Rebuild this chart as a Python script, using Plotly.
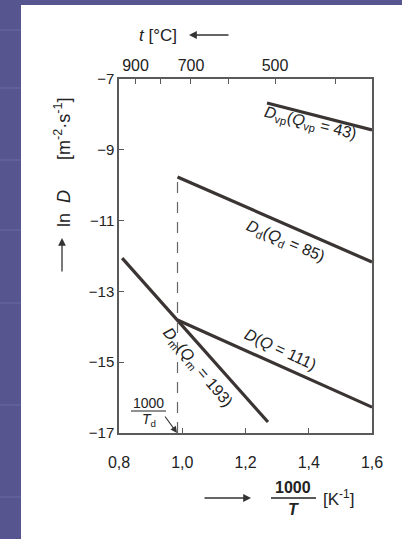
import plotly.graph_objects as go

# ---- data ----
x_tickvals = [0.8, 1.0, 1.2, 1.4, 1.6]
x_ticktext = ["0,8", "1,0", "1,2", "1,4", "1,6"]
y_tickvals = [-7, -9, -11, -13, -15, -17]
y_ticktext = ["\u22127", "\u22129", "\u221211", "\u221213", "\u221215", "\u221217"]
t_celsius = [900, 800, 700, 600, 500, 400]
t_ticktext = ["900", "", "700", "", "500", ""]

Dvp_x = [1.268, 1.6]
Dvp_y = [-7.68, -8.44]
Dd_x = [0.985, 1.6]
Dd_y = [-9.77, -12.17]
D_x = [0.985, 1.6]
D_y = [-13.81, -16.27]
Dm_x = [0.81, 0.985, 1.271]
Dm_y = [-12.06, -13.81, -16.69]
Td_x = 0.985

# ---- style ----
W, H = 402, 539
L, R, T, B = 119, 30, 79, 106
PW, PH = W - L - R, H - T - B
INK = "#3a3433"
FRAME = "#5a5a5a"
FONT = "Liberation Sans, Arial, sans-serif"
BLUE = "#56558f"


def P(px, py):
    """pixel -> paper coords"""
    return (px - L) / PW, (H - B - py) / PH


fig = go.Figure()
lw = 3.2
for xs, ys in [(Dvp_x, Dvp_y), (Dd_x, Dd_y), (D_x, D_y), (Dm_x, Dm_y)]:
    fig.add_trace(go.Scatter(x=xs, y=ys, mode="lines",
                             line=dict(color=INK, width=lw), showlegend=False,
                             hoverinfo="skip"))
# dashed line at 1000/Td
fig.add_trace(go.Scatter(x=[Td_x, Td_x], y=[-17, Dd_y[0]], mode="lines",
                         line=dict(color="#666", width=1.2, dash="11px,9px"),
                         showlegend=False, hoverinfo="skip"))
# invisible trace on top axis
top_vals = [1000.0 / (t + 273.15) for t in t_celsius]
fig.add_trace(go.Scatter(x=top_vals, y=[-20] * len(top_vals), xaxis="x2",
                         mode="markers", marker=dict(opacity=0), showlegend=False,
                         hoverinfo="skip"))

fig.update_layout(
    width=W, height=H, autosize=False,
    margin=dict(l=L, r=R, t=T, b=B),
    paper_bgcolor=BLUE, plot_bgcolor="white",
    font=dict(family=FONT, size=15, color="#333"),
    xaxis=dict(range=[0.8, 1.6], tickvals=x_tickvals, ticktext=x_ticktext,
               ticks="inside", ticklen=5, tickcolor=FRAME, showline=True,
               linecolor=FRAME, linewidth=1.5, showgrid=False, zeroline=False,
               ticklabelstandoff=14, tickfont=dict(size=16, color="#222")),
    xaxis2=dict(range=[0.8, 1.6], overlaying="x", side="top",
                tickvals=top_vals, ticktext=t_ticktext, ticks="inside",
                ticklen=5, tickcolor=FRAME, showline=True, linecolor=FRAME,
                linewidth=1.5, showgrid=False, zeroline=False,
                tickfont=dict(size=16, color="#222")),
    yaxis=dict(range=[-17, -7], tickvals=y_tickvals, ticktext=y_ticktext,
               ticks="inside", ticklen=5, tickcolor=FRAME, showline=True,
               mirror=True, linecolor=FRAME, linewidth=1.5, showgrid=False,
               zeroline=False, tickfont=dict(size=15, color="#222")),
)

shapes = []
# white paper
x0, y1 = P(21, 5)
x1, y0 = P(W, H)
shapes.append(dict(type="rect", xref="paper", yref="paper", x0=x0, x1=x1,
                   y0=y0, y1=y1, fillcolor="white", line=dict(width=0),
                   layer="below"))
# faint stripes on the left band
bx0, _ = P(0, 0)
bx1, _ = P(21, 0)
for sy in [30, 88, 160, 230, 303, 405, 497]:
    _, a = P(0, sy - 1)
    _, b = P(0, sy + 1)
    shapes.append(dict(type="rect", xref="paper", yref="paper", x0=bx0, x1=bx1,
                       y0=b, y1=a, fillcolor="#5f5f9b", line=dict(width=0),
                       layer="below"))
# fraction bars
fa, fy = P(271, 498)
fb, _ = P(316, 498)
shapes.append(dict(type="line", xref="paper", yref="paper", x0=fa, x1=fb,
                   y0=fy, y1=fy, line=dict(color="#222", width=1.6)))
ta, ty = P(131, 411)
tb, _ = P(166, 411)
shapes.append(dict(type="line", xref="paper", yref="paper", x0=ta, x1=tb,
                   y0=ty, y1=ty, line=dict(color="#222", width=1.2)))
fig.update_layout(shapes=shapes)

ann = []


def ptext(px, py, text, size=15, angle=0):
    x, y = P(px, py)
    ann.append(dict(xref="paper", yref="paper", x=x, y=y, text=text,
                    xanchor="center", yanchor="middle",
                    showarrow=False, textangle=angle,
                    font=dict(size=size, family=FONT, color="#222")))


def parrow(hx, hy, tx, ty, width=1.3):
    x, y = P(hx, hy)
    ann.append(dict(xref="paper", yref="paper", x=x, y=y, text="",
                    showarrow=True, ax=tx - hx, ay=ty - hy, arrowhead=2,
                    arrowsize=1.2, arrowwidth=width, arrowcolor="#333"))


# axis titles
ptext(62, 163, "ln  <i>D</i>      [m<sup>-2</sup>·s<sup>-1</sup>]", size=18, angle=-90)
parrow(62, 238, 62, 273)
ptext(158, 35, "<i>t</i> [°C]", size=17)
parrow(189, 35, 230, 35)
parrow(251, 498, 203, 498)
ptext(293, 487, "<b>1000</b>", size=16)
ptext(293, 509, "<b><i>T</i></b>", size=16)
ptext(338, 498, "[K<sup>-1</sup>]", size=17)
# 1000/Td
ptext(148, 403, "1000", size=14)
ptext(149, 420, "<i>T</i><sub>d</sub>", size=14)
parrow(177, 433, 164, 415, width=1.1)

# line labels (data coordinates)
labels = [
    (1.404, -8.27, "<i>D</i><sub>vp</sub>(<i>Q</i><sub>vp</sub> = 43)", 14),
    (1.325, -11.58, "<i>D</i><sub>d</sub>(<i>Q</i><sub>d</sub> = 85)", 23),
    (1.312, -14.63, "<i>D</i>(<i>Q</i> = 111)", 25),
    (1.047, -15.16, "<i>D</i><sub>m</sub>(<i>Q</i><sub>m</sub> = 193)", 50),
]
for lx, ly, txt, ang in labels:
    ann.append(dict(x=lx, y=ly, xref="x", yref="y", text=txt, showarrow=False,
                    textangle=ang, font=dict(size=16, family=FONT, color="#222")))

fig.update_layout(annotations=ann)
fig.write_html(
    "out.html",
    config={"displayModeBar": False},
    post_script="document.body.style.margin='0';document.body.style.padding='0';",
)
